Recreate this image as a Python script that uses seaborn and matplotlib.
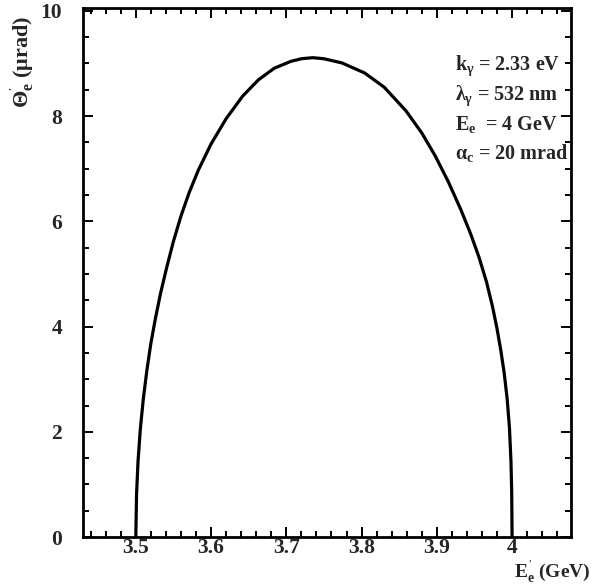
import matplotlib
matplotlib.use("Agg")
import matplotlib.pyplot as plt
from matplotlib.ticker import MultipleLocator, FixedLocator
import seaborn as sns
import pandas as pd

# Data
energy = [3.500, 3.501, 3.503, 3.506, 3.510, 3.515, 3.520, 3.526, 3.533, 3.541,
          3.550, 3.560, 3.571, 3.583, 3.600, 3.620, 3.642, 3.663, 3.684, 3.706,
          3.720, 3.735, 3.750, 3.774, 3.804, 3.830, 3.859, 3.880, 3.898, 3.915,
          3.932, 3.945, 3.956, 3.966, 3.974, 3.980, 3.985, 3.9895, 3.9935, 3.9965,
          3.9985, 3.9995, 4.000]
theta = [0.00, 0.82, 1.45, 2.05, 2.63, 3.20, 3.68, 4.15, 4.64, 5.12,
         5.62, 6.10, 6.55, 6.97, 7.47, 7.95, 8.38, 8.69, 8.91, 9.04,
         9.09, 9.11, 9.09, 9.01, 8.82, 8.55, 8.10, 7.68, 7.24, 6.76,
         6.22, 5.76, 5.32, 4.85, 4.38, 3.96, 3.55, 3.12, 2.62, 2.08,
         1.45, 0.85, 0.00]
x_ticks = [3.5, 3.6, 3.7, 3.8, 3.9, 4.0]
x_tick_labels = ["3.5", "3.6", "3.7", "3.8", "3.9", "4"]
y_ticks = [0, 2, 4, 6, 8, 10]
info_lines = [r"$k_{\gamma}$ = 2.33 eV",
              r"$\lambda_{\gamma}$ = 532 nm",
              r"$E_{e}$  = 4 GeV",
              r"$\alpha_{c}$ = 20 mrad"]

sns.set_theme(style="ticks")
plt.rcParams["font.family"] = ["Liberation Serif", "DejaVu Serif"]
plt.rcParams["font.weight"] = "bold"
plt.rcParams["mathtext.fontset"] = "custom"
plt.rcParams["mathtext.rm"] = "Liberation Serif:bold"
plt.rcParams["mathtext.it"] = "Liberation Serif:bold"
plt.rcParams["mathtext.bf"] = "Liberation Serif:bold"

df = pd.DataFrame({"E": energy, "theta": theta})

fig = plt.figure(figsize=(6.04, 5.87), dpi=100)
ax = fig.add_axes([0.137, 0.085, 0.808, 0.901])
sns.lineplot(data=df, x="E", y="theta", sort=False, estimator=None,
             color="black", linewidth=2.3, ax=ax)

ax.set_xlim(3.4295, 4.078)
ax.set_ylim(0, 10.05)
ax.xaxis.set_major_locator(FixedLocator(x_ticks))
ax.set_xticklabels(x_tick_labels)
ax.xaxis.set_minor_locator(MultipleLocator(0.02))
ax.yaxis.set_major_locator(FixedLocator(y_ticks))
ax.yaxis.set_minor_locator(MultipleLocator(0.5))

for s in ax.spines.values():
    s.set_linewidth(2.0)
    s.set_color("black")
    s.set_visible(True)

ax.tick_params(which="both", direction="in", top=True, right=True,
               color="black", width=1.4)
ax.tick_params(which="major", length=7, labelsize=15.5, pad=1)
ax.tick_params(axis="y", which="major", pad=15)
ax.tick_params(which="minor", length=4)
for lab in ax.get_xticklabels() + ax.get_yticklabels():
    lab.set_fontweight("bold")

ax.set_xlabel("")
ax.set_ylabel("")
fig.text(0.977, 0.049, r"$E^{'}_{e}$ (GeV)", ha="right", va="top",
         fontsize=14, fontweight="bold")
fig.text(0.038, 0.894, r"$\Theta^{'}_{e}$ ($\mu$rad)", ha="center", va="center",
         rotation=90, fontsize=16, fontweight="bold")

y_positions = [8.96, 8.38, 7.84, 7.30]
for txt, yy in zip(info_lines, y_positions):
    ax.text(3.924, yy, txt, ha="left", va="center", fontsize=14.5,
            fontweight="bold")

fig.savefig("out.png", dpi=100)
